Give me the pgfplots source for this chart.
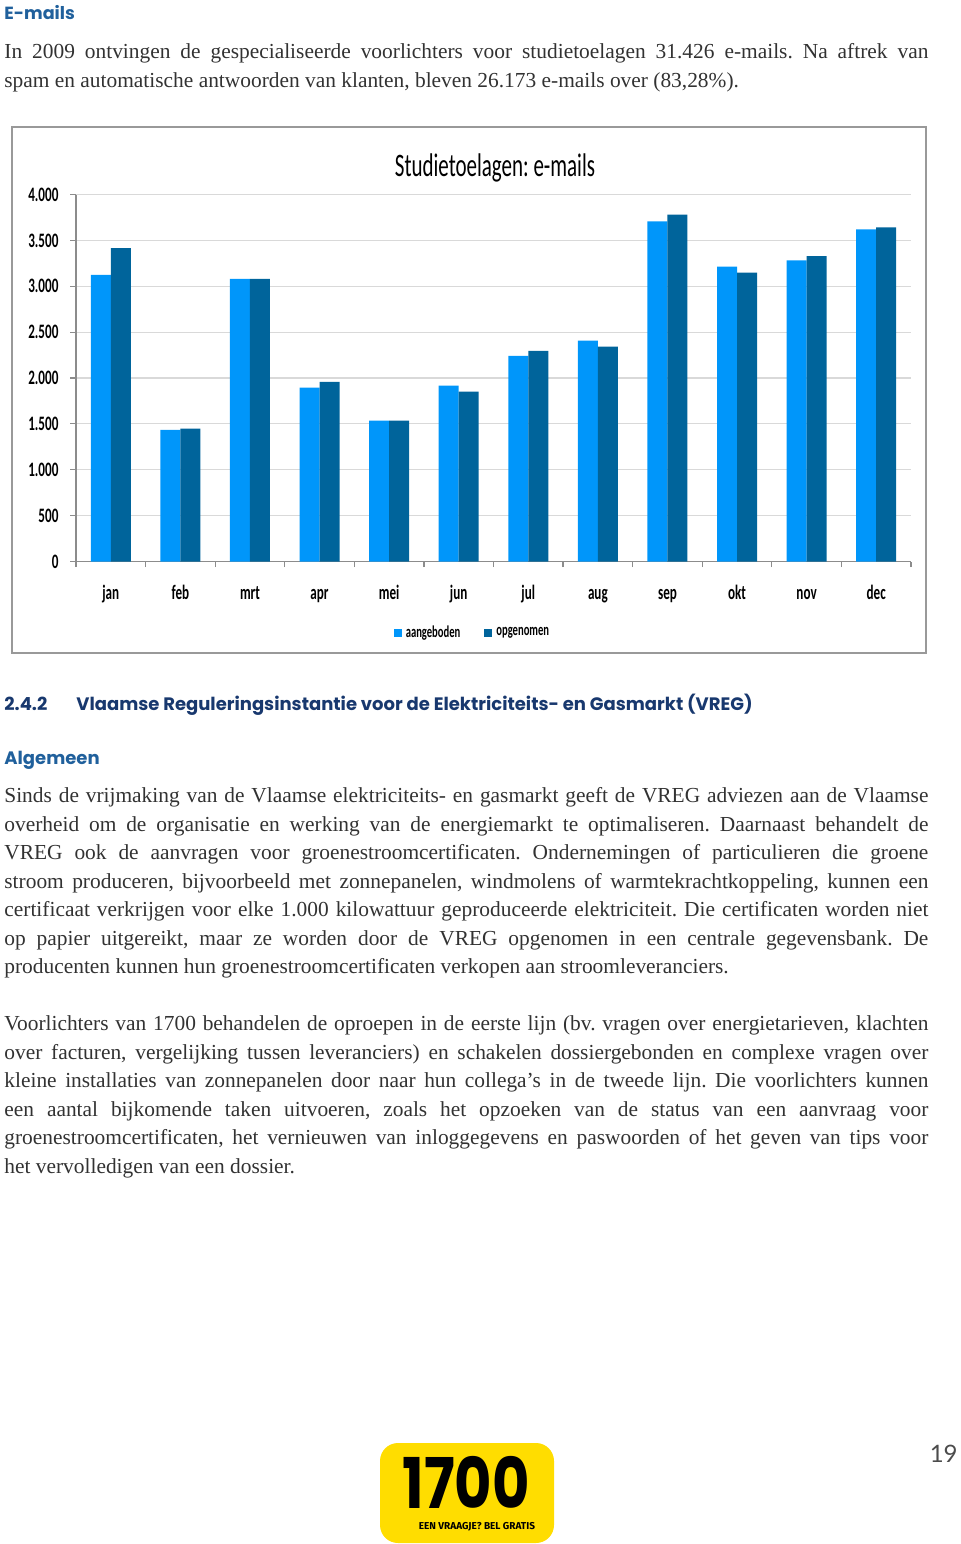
\documentclass[border=0pt]{standalone}
\usepackage{pgfplots}
\pgfplotsset{compat=1.18}
\usepackage{fontspec}
\usepackage{graphicx}
\setmainfont{Liberation Serif}
\newfontfamily\chartfont[FakeStretch=0.64]{Carlito}
\newfontfamily\headfont{Poppins}
\newfontfamily\numfont{Lato}
\newfontfamily\logofont{Fira Sans}
\definecolor{lightbar}{RGB}{0,150,250}
\definecolor{darkbar}{RGB}{0,100,155}
\definecolor{headblue}{RGB}{32,96,156}
\definecolor{headnavy}{RGB}{24,56,110}
\definecolor{bodytext}{RGB}{50,50,50}
\definecolor{logoyellow}{RGB}{255,221,0}

\pgfplotstableread{
x aangeboden opgenomen
0 3124 3415
1 1434 1448
2 3081 3081
3 1895 1957
4 1535 1535
5 1917 1852
6 2241 2296
7 2408 2343
8 3706 3782
9 3215 3150
10 3281 3328
11 3619 3641
}\emails

\begin{document}
\frenchspacing
\begin{tikzpicture}
\path[use as bounding box] (0,0) rectangle (480pt,-772pt);
\begin{scope}[x=0.5pt,y=-0.5pt]
% headings
\node[anchor=base west, inner sep=0, font=\headfont\bfseries\fontsize{8.8}{10}\selectfont, text=headblue] at (4,19.3) {E-mails};
\node[anchor=base west, inner sep=0, font=\headfont\bfseries\fontsize{9}{10}\selectfont, text=headnavy] at (4,710.7) {2.4.2};
\node[anchor=base west, inner sep=0, font=\headfont\bfseries\fontsize{9}{10}\selectfont, text=headnavy] at (76,710.7) {Vlaamse Reguleringsinstantie voor de Elektriciteits- en Gasmarkt (VREG)};
\node[anchor=base west, inner sep=0, font=\headfont\bfseries\fontsize{9}{10}\selectfont, text=headblue] at (4,764.3) {Algemeen};
% paragraphs
\node[anchor=north west, inner sep=0, text width=462pt, align=justify, text=bodytext, font=\fontsize{10.7}{14.25}\selectfont] at (4,38.35) {\strut In 2009 ontvingen de gespecialiseerde voorlichters voor studietoelagen 31.426 e-mails. Na aftrek van\linebreak spam en automatische antwoorden van klanten, bleven 26.173 e-mails over (83,28\%).};
\node[anchor=north west, inner sep=0, text width=462pt, align=justify, text=bodytext, font=\fontsize{10.7}{14.25}\selectfont] at (4,782.35) {\strut Sinds de vrijmaking van de Vlaamse elektriciteits- en gasmarkt geeft de VREG adviezen aan de Vlaamse\linebreak overheid om de organisatie en werking van de energiemarkt te optimaliseren. Daarnaast behandelt de\linebreak VREG ook de aanvragen voor groenestroomcertificaten. Ondernemingen of particulieren die groene\linebreak stroom produceren, bijvoorbeeld met zonnepanelen, windmolens of warmtekrachtkoppeling, kunnen een\linebreak certificaat verkrijgen voor elke 1.000 kilowattuur geproduceerde elektriciteit. Die certificaten worden niet\linebreak op papier uitgereikt, maar ze worden door de VREG opgenomen in een centrale gegevensbank. De\linebreak producenten kunnen hun groenestroomcertificaten verkopen aan stroomleveranciers.};
\node[anchor=north west, inner sep=0, text width=462pt, align=justify, text=bodytext, font=\fontsize{10.7}{14.25}\selectfont] at (4,1010.35) {\strut Voorlichters van 1700 behandelen de oproepen in de eerste lijn (bv. vragen over energietarieven, klachten\linebreak over facturen, vergelijking tussen leveranciers) en schakelen dossiergebonden en complexe vragen over\linebreak kleine installaties van zonnepanelen door naar hun collega’s in de tweede lijn. Die voorlichters kunnen\linebreak een aantal bijkomende taken uitvoeren, zoals het opzoeken van de status van een aanvraag voor\linebreak groenestroomcertificaten, het vernieuwen van inloggegevens en paswoorden of het geven van tips voor\linebreak het vervolledigen van een dossier.};
% chart frame and title
\draw[black!40, line width=0.8pt] (12,127) rectangle (926,653);
\node[anchor=base, inner sep=0, font=\chartfont\fontsize{16.4}{18}\selectfont] at (495,176.5) {Studietoelagen: e-mails};
% logo
\fill[logoyellow, rounded corners=9pt] (380,1443) rectangle (554,1543);
\node[anchor=base, inner sep=0, font=\headfont\bfseries\fontsize{17.5}{19}\selectfont] at (466,1508) {\scalebox{1.64}[2]{1700}};
\node[anchor=base, inner sep=0, font=\logofont\bfseries\fontsize{5.0}{6}\selectfont] at (477,1529) {EEN VRAAGJE? BEL GRATIS};
% page number
\node[anchor=base east, inner sep=0, font=\numfont\fontsize{12}{14}\selectfont, text=black!70] at (958,1462) {19};
\end{scope}

\begin{axis}[
  at={(38pt,-280.75pt)}, anchor=south west,
  scale only axis, width=417.5pt, height=183.5pt,
  ymin=0, ymax=4000, xmin=-0.5, xmax=11.5,
  ybar=0pt, bar width=10pt,
  axis x line*=bottom, axis y line*=left,
  axis line style={draw=black!45, line width=0.6pt},
  tick align=outside,
  major tick length=2.75pt,
  tick style={draw=black!45, line width=0.6pt},
  ytick={0,500,...,4000},
  scaled y ticks=false,
  /pgf/number format/1000 sep={.},
  /pgf/number format/assume math mode=true,
  yticklabel style={font=\chartfont\bfseries\fontsize{10.25}{12}\selectfont, xshift=-2.5pt},
  ymajorgrids, grid style={draw=black!15, line width=0.6pt},
  xtick={-0.5,0.5,...,11.5},
  xticklabels={},
  extra x ticks={0,1,...,11},
  extra x tick labels={jan,feb,mrt,apr,mei,jun,jul,aug,sep,okt,nov,dec},
  extra x tick style={tick style={draw=none}, grid=none,
     tick label style={font=\chartfont\bfseries\fontsize{10.25}{12}\selectfont, anchor=base, yshift=-16pt}},
  legend style={at={(0.476,-0.195)}, anchor=center, draw=none, fill=none,
     legend columns=2, font=\chartfont\bfseries\fontsize{8.3}{10}\selectfont,
     /tikz/every even column/.append style={column sep=10pt}},
  clip=false,
]
\addplot[fill=lightbar, draw=none, legend image code/.code={\fill[lightbar] (0pt,-2pt) rectangle (4pt,2pt);}] table[x=x, y=aangeboden] {\emails};
\addplot[fill=darkbar, draw=none, legend image code/.code={\fill[darkbar] (0pt,-2pt) rectangle (4pt,2pt);}] table[x=x, y=opgenomen] {\emails};
\legend{aangeboden, opgenomen}
\end{axis}
\end{tikzpicture}
\end{document}
